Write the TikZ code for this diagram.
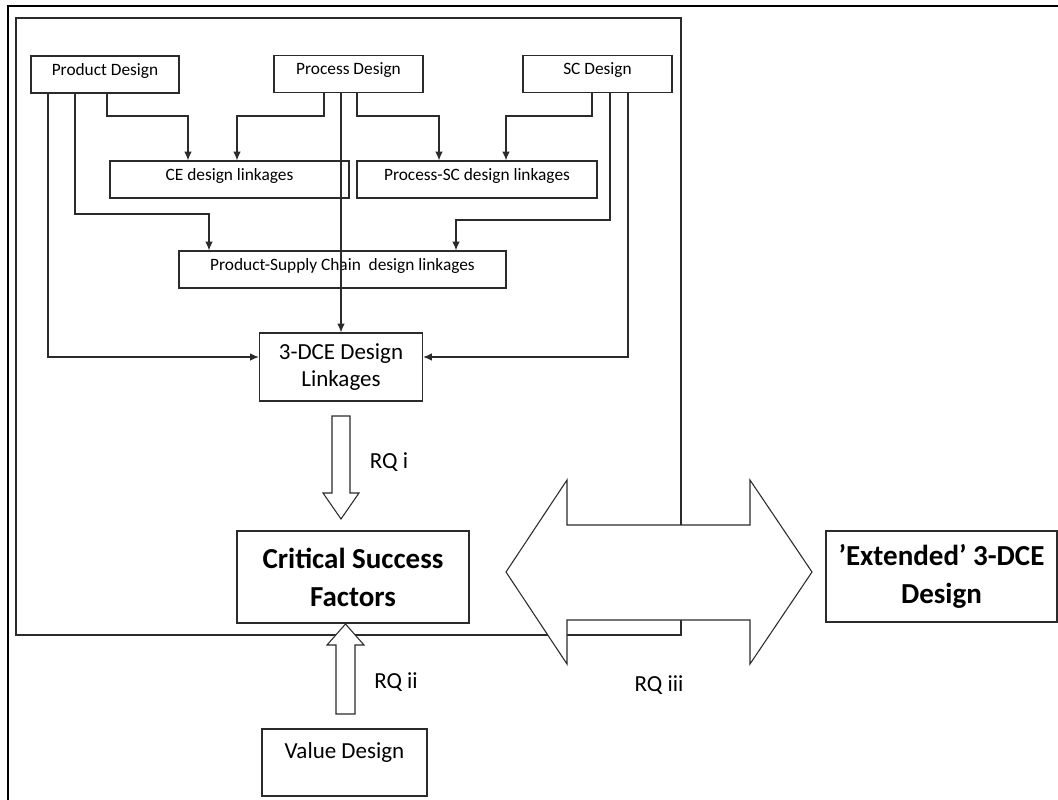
\documentclass[tikz,border=0pt]{standalone}
\usepackage{fontspec}
\setmainfont{Carlito}
\usetikzlibrary{arrows.meta}
\definecolor{ln}{HTML}{2B2B2B}
\begin{document}
\begin{tikzpicture}[x=0.75pt,y=-0.75pt,
  box/.style={draw=ln, line width=0.9pt, inner sep=0pt, align=center},
  sbox/.style={box, font=\fontsize{13pt}{16pt}\selectfont, minimum height=27.75pt, text height=9pt, text depth=8pt},
  mbox/.style={box, font=\fontsize{17.25pt}{20.25pt}\selectfont},
  bbox/.style={box, font=\bfseries\fontsize{21.75pt}{28.5pt}\selectfont},
  conn/.style={draw=ln, line width=0.9pt, -{Latex[length=6.5pt,width=5.5pt]}},
  blockarrow/.style={draw=ln, line width=0.8pt, fill=white, line join=miter},
  lbl/.style={inner sep=0pt, font=\fontsize{17.25pt}{20.25pt}\selectfont}]
\useasboundingbox (0,0) rectangle (1058,800);
% outer frame
\draw[line width=1.6pt] (8,800) -- (8,6) -- (1058,6);
% inner frame
\draw[draw=ln, line width=0.8pt] (16,18) rectangle (681,635);
% top boxes
\node[sbox, minimum width=111pt] (prod) at (105,74.5) {Product Design};
\node[sbox, minimum width=111.75pt] (proc) at (348.5,74) {Process Design};
\node[sbox, minimum width=111.75pt] (sc) at (597.5,74) {SC Design};
\node[sbox, minimum width=179.25pt] (ce) at (229.5,179.5) {CE design linkages};
\node[sbox, minimum width=180pt] (psc) at (477,179.5) {Process-SC design linkages};
\node[sbox, minimum width=245.25pt] (prsc) at (342.5,269.5) {Product-Supply Chain\ \ design linkages};
\node[mbox, minimum width=122.25pt, minimum height=51pt] (dce) at (341,367) {3-DCE Design\\Linkages};
\node[bbox, minimum width=174pt, minimum height=69pt] (csf) at (353,577) {Critical Success\\Factors};
\node[bbox, minimum width=173.25pt, minimum height=68.25pt] (ext) at (941.5,576.5) {'Extended' 3-DCE\\Design};
\node[mbox, minimum width=123.75pt, minimum height=50.25pt, text height=11pt, text depth=17pt] (val) at (344.5,762.5) {Value Design};
% connectors
\draw[conn] (48,0 |- prod.south) |- ([yshift=7.5pt]dce.west);
\draw[conn] (75,0 |- prod.south) |- (209,214) -- (209,0 |- prsc.north);
\draw[conn] (107,0 |- prod.south) |- (188,116) -- (188,0 |- ce.north);
\draw[conn] (324,0 |- proc.south) |- (237,116) -- (237,0 |- ce.north);
\draw[conn] (proc.south -| dce.north) -- (dce.north);
\draw[conn] (357,0 |- proc.south) |- (439,116) -- (439,0 |- psc.north);
\draw[conn] (592,0 |- sc.south) |- (506,116) -- (506,0 |- psc.north);
\draw[conn] (610,0 |- sc.south) |- (456,220) -- (456,0 |- prsc.north);
\draw[conn] (628,0 |- sc.south) |- ([yshift=7.5pt]dce.east);
% block arrows
\draw[blockarrow] (332,416) -- (350,416) -- (350,493) -- (359,493) -- (341,519) -- (323,493) -- (332,493) -- cycle;
\draw[blockarrow] (336,714) -- (355,714) -- (355,645) -- (364,645) -- (345.5,624) -- (327,645) -- (336,645) -- cycle;
\draw[blockarrow] (506,572) -- (567,480) -- (567,525) -- (750,525) -- (750,480) -- (812,572) -- (750,664) -- (750,620) -- (567,620) -- (567,664) -- cycle;
% labels
\node[lbl] (rq1) at (389,462) {RQ i};
\node[lbl] (rq2) at (396,682) {RQ ii};
\node[lbl] (rq3) at (659,685) {RQ iii};
\end{tikzpicture}
\end{document}
